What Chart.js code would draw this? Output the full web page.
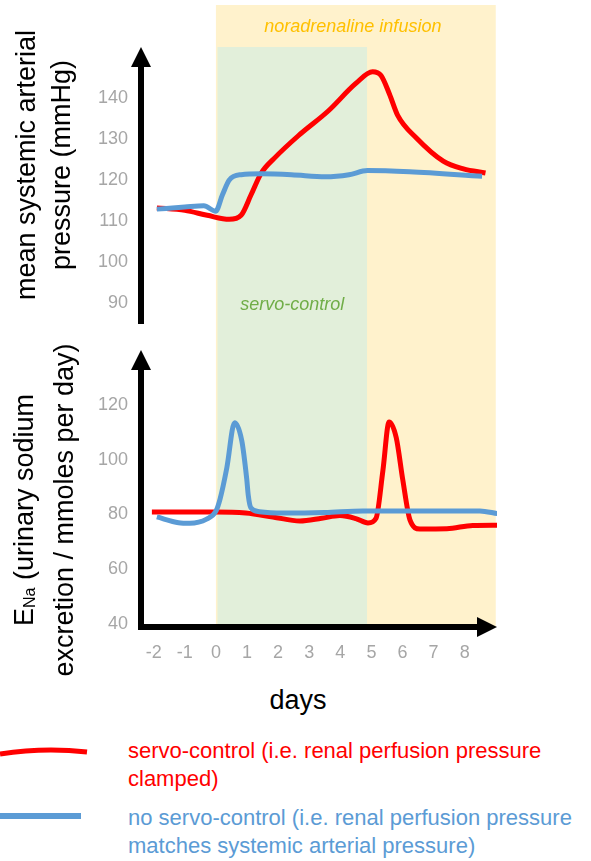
<!DOCTYPE html>
<html>
<head>
<meta charset="utf-8">
<script src="https://cdn.jsdelivr.net/npm/chart.js@4"></script>
<style>
  html, body { margin: 0; padding: 0; background: #fff; }
  body { width: 591px; height: 861px; position: relative; overflow: hidden; font-family: "Liberation Sans", Arial, sans-serif; }
  #wrap { position: absolute; left: 0; top: 0; width: 591px; height: 680px; }
  .ytitle { position: absolute; transform: translate(-50%, -50%) rotate(-90deg); white-space: nowrap; text-align: center; font-size: 27px; line-height: 35px; color: #000; }
  .ytitle sub { font-size: 16px; vertical-align: -2px; }
  #days { position: absolute; left: 298px; top: 700px; transform: translate(-50%, -50%); font-size: 27px; color: #000; }
  .leg { position: absolute; left: 128px; font-size: 22px; line-height: 28px; white-space: nowrap; }
  svg { position: absolute; left: 0; top: 0; }
</style>
</head>
<body>
<div id="wrap"><canvas id="c" width="591" height="680"></canvas></div>
<div class="ytitle" style="left:44px; top:165px;">mean systemic arterial<br>pressure (mmHg)</div>
<div class="ytitle" style="left:44px; top:510px;">E<sub>Na</sub> (urinary sodium<br>excretion / mmoles per day)</div>
<div id="days">days</div>
<svg width="120" height="861">
  <path d="M0 754 Q 44 747 87 752" stroke="#FF0000" stroke-width="5" fill="none"/>
  <line x1="0" y1="816" x2="81" y2="816" stroke="#5B9BD5" stroke-width="6"/>
</svg>
<div class="leg" style="top:737px; color:#FF0000;">servo-control (i.e. renal perfusion pressure<br>clamped)</div>
<div class="leg" style="top:804px; color:#5B9BD5;">no servo-control (i.e. renal perfusion pressure<br>matches systemic arterial pressure)</div>
<script>
// ---- data (x = days) ----
const xTicks = [-2, -1, 0, 1, 2, 3, 4, 5, 6, 7, 8];
const pressureTicks = [90, 100, 110, 120, 130, 140];
const sodiumTicks = [40, 60, 80, 100, 120];

const infusionPeriod = [0, 9.0];
const servoPeriod = [0.05, 4.86];

const pressureServo = [
  [-1.9, 113.2], [-1.0, 112.6], [-0.28, 111.4], [0.43, 110.4], [0.81, 111.4], [1.13, 116.4],
  [1.46, 121.7], [1.89, 125.4], [2.65, 130.8], [3.62, 136.9], [4.49, 143.5], [5.04, 146.4],
  [5.31, 145.5], [5.58, 141.0], [5.85, 135.7], [6.44, 130.3], [7.31, 124.6], [7.96, 122.7], [8.67, 121.7]
];
const pressureNoServo = [
  [-1.9, 112.9], [-1.0, 113.4], [-0.39, 113.7], [-0.01, 112.4], [0.21, 116.4], [0.43, 120.0],
  [0.81, 121.3], [1.46, 121.5], [2.43, 121.3], [3.52, 120.8], [4.28, 121.3], [4.87, 122.3],
  [6.23, 122.0], [8.56, 120.9]
];
const sodiumServo = [
  [-2.06, 80.9], [0, 80.9], [0.96, 80.5], [1.83, 79.1], [2.7, 77.6], [3.4, 78.6], [3.99, 79.6],
  [4.5, 78.5], [4.89, 76.9], [5.15, 78.6], [5.37, 96.0], [5.57, 113.8], [5.8, 108.0], [6.01, 92.6],
  [6.24, 78.0], [6.56, 74.7], [7.43, 74.8], [8.26, 76.0], [9.05, 76.1]
];
const sodiumNoServo = [
  [-1.9, 79.1], [-1.2, 77.0], [-0.84, 76.8], [-0.3, 78.3], [0.0, 81.2], [0.13, 85.5], [0.35, 97.0],
  [0.6, 113.5], [0.83, 107.0], [0.99, 93.0], [1.04, 87.0], [1.12, 82.5], [1.4, 81.0], [2.15, 80.5],
  [3.5, 80.7], [4.73, 81.3], [6.5, 81.3], [8.49, 81.3], [9.05, 80.3]
];

const RED = '#FF0000', BLUE = '#5B9BD5', GREY = '#A6A6A6';
const FONT = '"Liberation Sans", Arial, sans-serif';
const toXY = arr => arr.map(([x, y]) => ({ x, y }));

function drawArrow(ctx, x1, y1, x2, y2) {
  const head = 20, half = 10;
  const dx = x2 - x1, dy = y2 - y1, len = Math.hypot(dx, dy);
  const ux = dx / len, uy = dy / len;
  const bx = x2 - ux * head, by = y2 - uy * head;
  ctx.beginPath();
  ctx.moveTo(x1, y1);
  ctx.lineTo(bx + ux, by + uy);
  ctx.stroke();
  ctx.beginPath();
  ctx.moveTo(x2, y2);
  ctx.lineTo(bx - uy * half, by + ux * half);
  ctx.lineTo(bx + uy * half, by - ux * half);
  ctx.closePath();
  ctx.fill();
}

const decor = {
  id: 'decor',
  beforeDraw(chart) {
    const { ctx, chartArea: a, scales } = chart;
    const x = scales.x, yP = scales.yP;
    ctx.save();
    const i0 = x.getPixelForValue(infusionPeriod[0]), i1 = x.getPixelForValue(infusionPeriod[1]);
    ctx.fillStyle = '#FFF2CC';
    ctx.fillRect(i0, a.top, i1 - i0, a.bottom - a.top);
    const s0 = x.getPixelForValue(servoPeriod[0]), s1 = x.getPixelForValue(servoPeriod[1]);
    ctx.fillStyle = '#E2EFDA';
    ctx.fillRect(s0, a.top + 42, s1 - s0, a.bottom - a.top - 42);
    ctx.font = 'italic 18px ' + FONT;
    ctx.textAlign = 'center';
    ctx.textBaseline = 'middle';
    ctx.fillStyle = '#FFC000';
    ctx.fillText('noradrenaline infusion', (i0 + i1) / 2 - 3, a.top + 22);
    ctx.fillStyle = '#70AD47';
    ctx.fillText('servo-control', (s0 + s1) / 2, yP.bottom - 32);
    ctx.restore();
  },
  afterDraw(chart) {
    const { ctx, chartArea: a, scales } = chart;
    const yP = scales.yP, yE = scales.yE;
    ctx.save();
    ctx.strokeStyle = '#000';
    ctx.fillStyle = '#000';
    ctx.lineWidth = 6;
    ctx.lineCap = 'butt';
    drawArrow(ctx, a.left, yP.bottom - 13, a.left, yP.top + 42);
    drawArrow(ctx, a.left, a.bottom + 3, a.left, yE.top + 13);
    drawArrow(ctx, a.left - 3, a.bottom, a.right, a.bottom);
    ctx.restore();
  }
};

const tickFont = { family: FONT, size: 18 };
const noPad = s => { s.paddingTop = 0; s.paddingBottom = 0; s.paddingLeft = 0; s.paddingRight = 0; };
const yCommon = {
  type: 'linear', position: 'left', stack: 'main',
  grid: { display: false, drawTicks: false },
  border: { display: false },
  ticks: { color: GREY, font: tickFont, padding: 13 },
  afterFit: s => { s.width = 60; noPad(s); }
};

new Chart(document.getElementById('c'), {
  type: 'line',
  data: {
    datasets: [
      { label: 'servo-control', data: toXY(pressureServo), yAxisID: 'yP', borderColor: RED, borderWidth: 5, order: 1 },
      { label: 'no servo-control', data: toXY(pressureNoServo), yAxisID: 'yP', borderColor: BLUE, borderWidth: 5, order: 0 },
      { label: 'servo-control', data: toXY(sodiumServo), yAxisID: 'yE', borderColor: RED, borderWidth: 5, order: 1 },
      { label: 'no servo-control', data: toXY(sodiumNoServo), yAxisID: 'yE', borderColor: BLUE, borderWidth: 5, order: 0 }
    ]
  },
  options: {
    responsive: false,
    animation: false,
    devicePixelRatio: 1,
    elements: {
      point: { radius: 0, hoverRadius: 0 },
      line: { cubicInterpolationMode: 'monotone', fill: false, borderCapStyle: 'butt' }
    },
    layout: { padding: { left: 81, right: 94, top: 5, bottom: 13 } },
    plugins: { legend: { display: false }, tooltip: { enabled: false } },
    scales: {
      x: {
        type: 'linear', min: -2.41, max: 9.04,
        grid: { display: false, drawTicks: false },
        border: { display: false },
        ticks: { color: GREY, font: tickFont, padding: 15 },
        afterBuildTicks: s => { s.ticks = xTicks.map(v => ({ value: v })); },
        afterFit: s => { s.height = 40; noPad(s); }
      },
      yE: Object.assign({}, yCommon, {
        min: 38.9, max: 144.8, stackWeight: 290,
        afterBuildTicks: s => { s.ticks = sodiumTicks.map(v => ({ value: v })); }
      }),
      yP: Object.assign({}, yCommon, {
        min: 81.7, max: 162.7, stackWeight: 332,
        afterBuildTicks: s => { s.ticks = pressureTicks.map(v => ({ value: v })); }
      })
    }
  },
  plugins: [decor]
});
</script>
</body>
</html>
